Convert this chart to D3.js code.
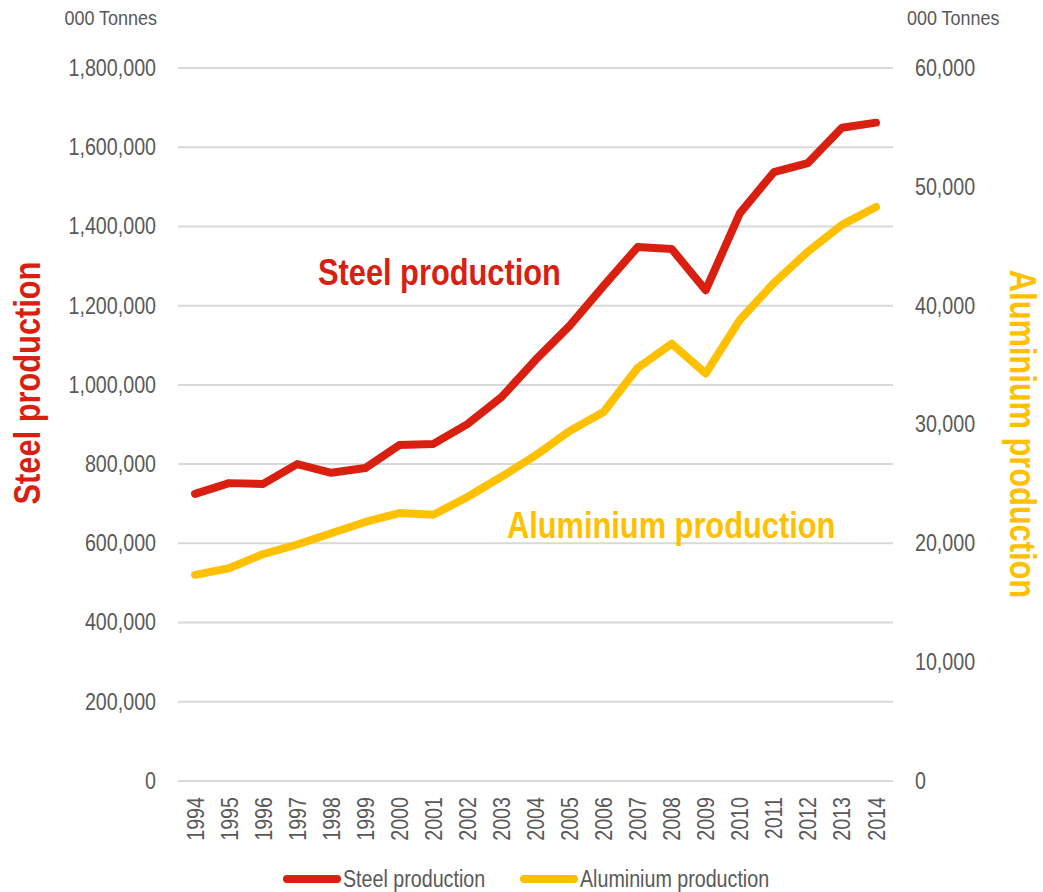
<!DOCTYPE html>
<html>
<head>
<meta charset="utf-8">
<script src="https://cdn.jsdelivr.net/npm/d3@7"></script>
<style>
  body { margin: 0; background: #fff; }
  svg { font-family: 'Liberation Sans Narrow', 'Arial Narrow', 'Liberation Sans', sans-serif; }
</style>
</head>
<body>
<div id="chart"></div>
<script>
const years = ['1994', '1995', '1996', '1997', '1998', '1999', '2000', '2001', '2002', '2003', '2004',
  '2005', '2006', '2007', '2008', '2009', '2010', '2011', '2012', '2013', '2014']
const steel = [725000, 752000, 750000, 800000, 778000, 790000, 848000, 851000, 901000, 969000, 1063000,
  1149000, 1250000, 1348000, 1343000, 1239000, 1433000, 1537000, 1560000, 1649000, 1662000]
const aluminium = [17350, 17900, 19100, 19900, 20850, 21800, 22550, 22400, 23900, 25600, 27400,
  29450, 31050, 34750, 36800, 34300, 38800, 41900, 44550, 46800, 48300]
const leftTicks = [0, 200000, 400000, 600000, 800000, 1000000, 1200000, 1400000, 1600000, 1800000]
const rightTicks = [0, 10000, 20000, 30000, 40000, 50000, 60000]

const red = '#d92010'
const gold = '#ffc000'
const grey = '#595959'

const width = 1043
const height = 892
const margin = { top: 68, right: 150, bottom: 111, left: 178 }
const innerW = width - margin.left - margin.right
const innerH = height - margin.top - margin.bottom

const svg = d3.select('#chart').append('svg')
  .attr('width', width)
  .attr('height', height)

const g = svg.append('g')
  .attr('transform', 'translate(' + margin.left + ',' + margin.top + ')')

const x = d3.scalePoint().domain(years).range([0, innerW]).padding(0.5)
const yL = d3.scaleLinear().domain([0, 1800000]).range([innerH, 0])
const yR = d3.scaleLinear().domain([0, 60000]).range([innerH, 0])

// gridlines
g.selectAll('.grid')
  .data(leftTicks)
  .enter().append('line')
  .attr('x1', 0)
  .attr('x2', innerW)
  .attr('y1', d => yL(d))
  .attr('y2', d => yL(d))
  .attr('stroke', '#d9d9d9')
  .attr('stroke-width', 2)

// left axis
const leftAxis = g.append('g')
  .call(d3.axisLeft(yL).tickValues(leftTicks).tickSize(0).tickPadding(22).tickFormat(d3.format(',')))
leftAxis.select('.domain').remove()
leftAxis.selectAll('text')
  .attr('fill', grey)
  .style('font-size', '23px')

// right axis
const rightAxis = g.append('g')
  .attr('transform', 'translate(' + innerW + ',0)')
  .call(d3.axisRight(yR).tickValues(rightTicks).tickSize(0).tickPadding(22).tickFormat(d3.format(',')))
rightAxis.select('.domain').remove()
rightAxis.selectAll('text')
  .attr('fill', grey)
  .style('font-size', '23px')

// x axis
const xAxis = g.append('g')
  .attr('transform', 'translate(0,' + innerH + ')')
  .call(d3.axisBottom(x).tickSize(0))
xAxis.select('.domain').remove()
xAxis.selectAll('text')
  .attr('fill', grey)
  .style('font-size', '23px')
  .attr('text-anchor', 'end')
  .attr('transform', 'rotate(-90)')
  .attr('x', -16)
  .attr('y', 0)
  .attr('dy', '0.35em')

// unit labels
svg.append('text')
  .attr('x', 157).attr('y', 25)
  .attr('text-anchor', 'end')
  .attr('fill', grey)
  .style('font-size', '21px')
  .text('000 Tonnes')
svg.append('text')
  .attr('x', 907).attr('y', 25)
  .attr('fill', grey)
  .style('font-size', '21px')
  .text('000 Tonnes')

// lines
const lineL = d3.line().x((d, i) => x(years[i])).y(d => yL(d))
const lineR = d3.line().x((d, i) => x(years[i])).y(d => yR(d))

g.append('path')
  .datum(aluminium)
  .attr('d', lineR)
  .attr('fill', 'none')
  .attr('stroke', gold)
  .attr('stroke-width', 8)
  .attr('stroke-linecap', 'round')
  .attr('stroke-linejoin', 'round')

g.append('path')
  .datum(steel)
  .attr('d', lineL)
  .attr('fill', 'none')
  .attr('stroke', red)
  .attr('stroke-width', 8)
  .attr('stroke-linecap', 'round')
  .attr('stroke-linejoin', 'round')

// series labels in plot
svg.append('text')
  .attr('x', 318).attr('y', 285)
  .attr('fill', red)
  .style('font-size', '36px')
  .style('font-weight', 'bold')
  .text('Steel production')
svg.append('text')
  .attr('x', 507).attr('y', 538)
  .attr('fill', gold)
  .style('font-size', '36px')
  .style('font-weight', 'bold')
  .text('Aluminium production')

// axis titles
svg.append('text')
  .attr('transform', 'translate(40,383) rotate(-90)')
  .attr('text-anchor', 'middle')
  .attr('fill', red)
  .style('font-size', '36px')
  .style('font-weight', 'bold')
  .text('Steel production')
svg.append('text')
  .attr('transform', 'translate(1010,434) rotate(90)')
  .attr('text-anchor', 'middle')
  .attr('fill', gold)
  .style('font-size', '36px')
  .style('font-weight', 'bold')
  .text('Aluminium production')

// legend
const legend = [
  { name: 'Steel production', color: red, x: 287 },
  { name: 'Aluminium production', color: gold, x: 524 }
]
const leg = svg.selectAll('.legend')
  .data(legend)
  .enter().append('g')
  .attr('transform', d => 'translate(' + d.x + ',879)')
leg.append('line')
  .attr('x1', 0).attr('x2', 50)
  .attr('stroke', d => d.color)
  .attr('stroke-width', 8)
  .attr('stroke-linecap', 'round')
leg.append('text')
  .attr('x', 56)
  .attr('dy', '0.35em')
  .attr('fill', grey)
  .style('font-size', '23px')
  .text(d => d.name)

// no narrow font installed, so squeeze every label horizontally
svg.selectAll('text').each(function () {
  const len = this.getComputedTextLength()
  d3.select(this)
    .attr('textLength', len * 0.855)
    .attr('lengthAdjust', 'spacingAndGlyphs')
})
</script>
</body>
</html>
